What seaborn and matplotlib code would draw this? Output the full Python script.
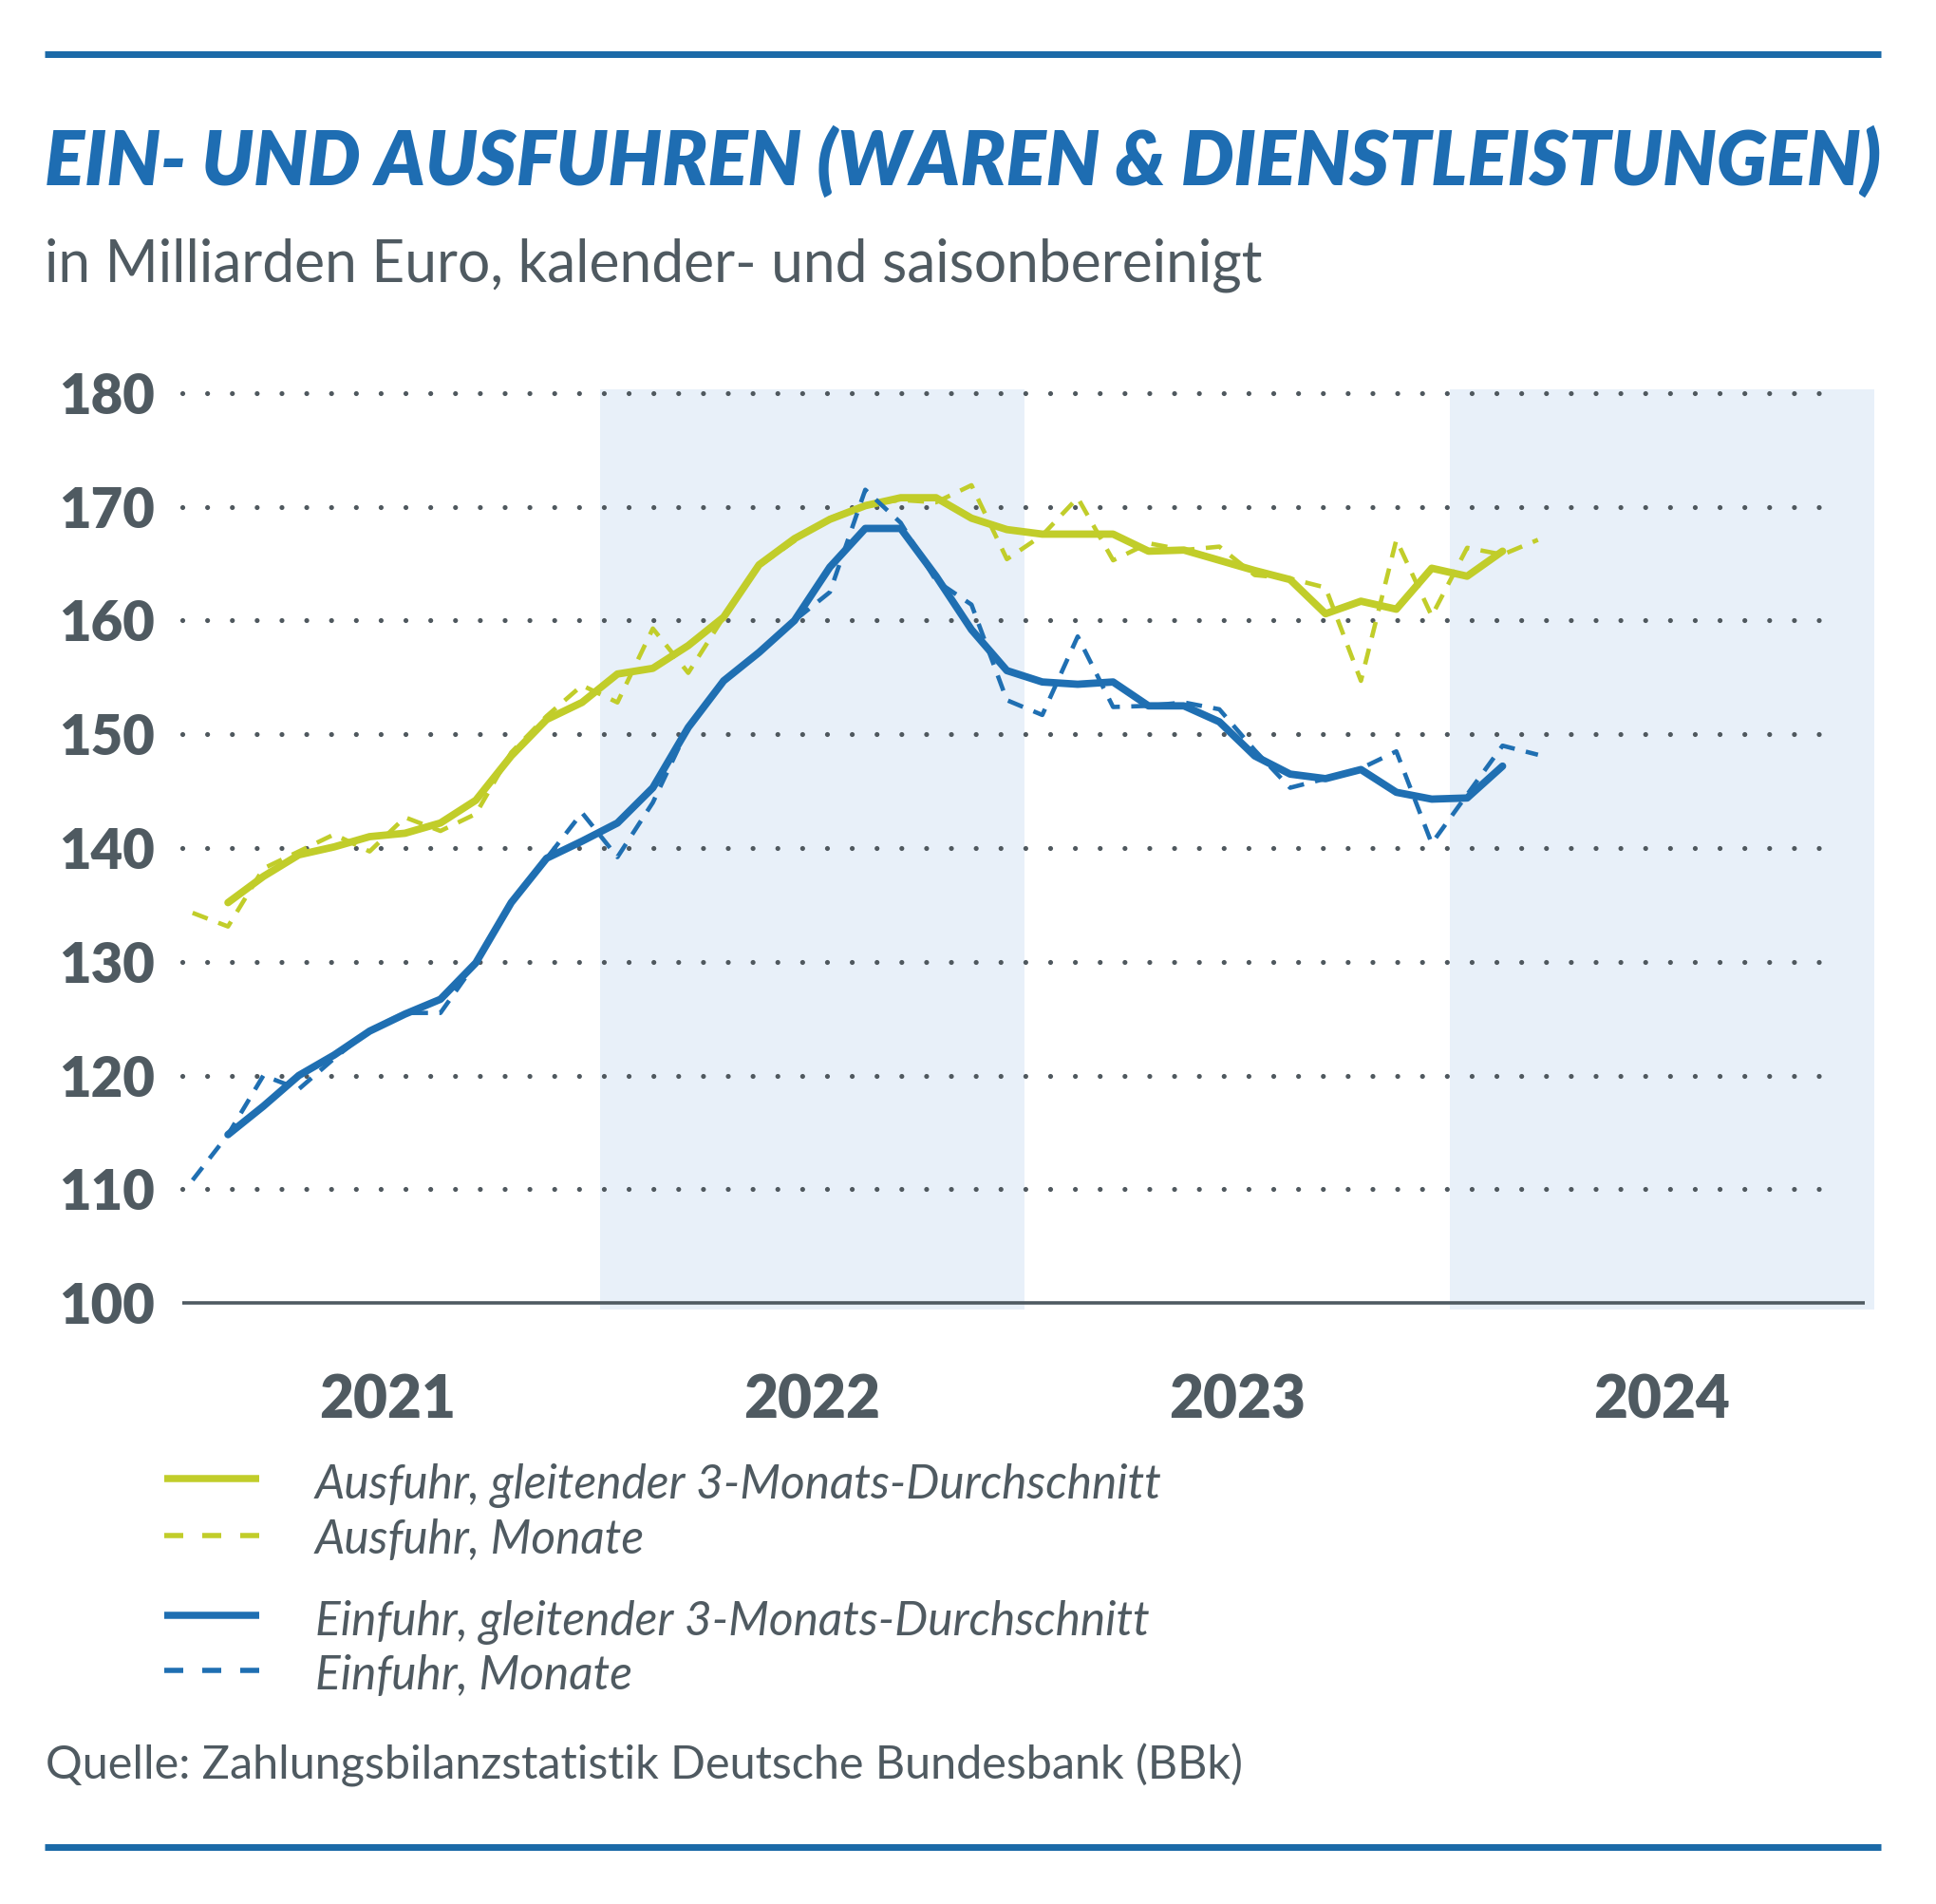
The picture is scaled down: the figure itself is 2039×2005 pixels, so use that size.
import numpy as np
import pandas as pd
import matplotlib
matplotlib.use("Agg")
import matplotlib.pyplot as plt
import seaborn as sns
from matplotlib.lines import Line2D

# ---------------- data ----------------
years = ["2021", "2022", "2023", "2024"]
y_ticks = [100, 110, 120, 130, 140, 150, 160, 170, 180]

# monthly values Jan 2021 .. Mar 2024 (39 months)
ausfuhr_monate = [134.3, 133.1, 138.2, 139.7, 141.2, 139.7, 142.7, 141.5, 143.0, 148.4,
                  151.6, 154.3, 152.8, 159.3, 155.4, 160.3, 164.8, 167.0, 169.0, 170.2,
                  170.6, 170.4, 171.9, 165.4, 167.5, 170.8, 165.3, 166.8, 166.2, 166.5,
                  164.0, 163.7, 162.9, 154.7, 167.1, 160.4, 166.4, 165.8, 167.1]
einfuhr_monate = [110.8, 114.8, 120.0, 118.8, 121.5, 124.0, 125.5, 125.5, 129.9, 135.2,
                  139.1, 143.1, 139.2, 144.0, 150.6, 154.7, 157.2, 160.0, 162.5, 171.5,
                  168.6, 163.5, 161.4, 153.0, 151.7, 158.6, 152.4, 152.5, 152.8, 152.2,
                  148.6, 145.3, 146.1, 147.0, 148.5, 140.4, 144.7, 149.0, 148.2]
# 3-month moving average Feb 2021 .. Feb 2024 (37 months)
ausfuhr_3m = [135.2, 137.5, 139.4, 140.1, 141.0, 141.3, 142.2, 144.2, 148.1, 151.3,
              152.8, 155.3, 155.8, 157.8, 160.3, 164.9, 167.2, 168.9, 170.1, 170.8,
              170.8, 169.0, 168.0, 167.6, 167.6, 167.6, 166.1, 166.2, 165.3, 164.4,
              163.6, 160.6, 161.7, 161.0, 164.6, 163.9, 166.1]
einfuhr_3m = [114.8, 117.3, 120.0, 121.8, 123.9, 125.4, 126.7, 129.9, 135.2, 139.1,
              140.6, 142.2, 145.3, 150.6, 154.7, 157.2, 160.0, 164.7, 168.1, 168.1,
              163.9, 159.2, 155.6, 154.6, 154.4, 154.6, 152.5, 152.5, 151.1, 148.1,
              146.5, 146.1, 146.9, 144.9, 144.3, 144.4, 147.2]

legend_labels = ["Ausfuhr, gleitender 3-Monats-Durchschnitt",
                 "Ausfuhr, Monate",
                 "Einfuhr, gleitender 3-Monats-Durchschnitt",
                 "Einfuhr, Monate"]
title = "EIN- UND AUSFUHREN (WAREN & DIENSTLEISTUNGEN)"
subtitle = "in Milliarden Euro, kalender- und saisonbereinigt"
source = "Quelle: Zahlungsbilanzstatistik Deutsche Bundesbank (BBk)"

# ---------------- build table ----------------
x_monthly = np.arange(len(ausfuhr_monate)) + 0.5          # month centres, 0 = Jan 2021
x_3m = np.arange(1, len(ausfuhr_3m) + 1) + 0.5
frames = []
for reihe, art, xs, vals in [("Ausfuhr", "Monate", x_monthly, ausfuhr_monate),
                             ("Einfuhr", "Monate", x_monthly, einfuhr_monate),
                             ("Einfuhr", "3M", x_3m, einfuhr_3m),
                             ("Ausfuhr", "3M", x_3m, ausfuhr_3m)]:
    frames.append(pd.DataFrame({"x": xs, "wert": vals, "reihe": reihe, "art": art}))
df = pd.concat(frames, ignore_index=True)

# ---------------- style ----------------
GREEN = "#c1cd2a"
BLUE = "#1f6fb2"
TITLE_BLUE = "#1e6db2"
GREY = "#4f5a61"
SHADE = "#e8f0f9"
DOT = "#4f585e"

sns.set_style("white")
plt.rcParams["font.family"] = ["Lato", "DejaVu Sans"]
plt.rcParams["lines.scale_dashes"] = False

W, H = 2040, 2005
fig = plt.figure(figsize=(W / 100, H / 100), dpi=100)
PX = 72 / 100  # points per pixel

ax_l, ax_r = 184.2, 1974.0
ax_top, ax_bot = 410.0, 1379.0
ax = fig.add_axes([ax_l / W, 1 - ax_bot / H, (ax_r - ax_l) / W, (ax_bot - ax_top) / H])
ax.set_xlim(0, 48)
ax.set_ylim(99.42, 180.33)
for s in ax.spines.values():
    s.set_visible(False)

# shaded years 2022 and 2024
ax.axvspan(12, 24, color=SHADE, lw=0, zorder=0)
ax.axvspan(36, 48, color=SHADE, lw=0, zorder=0)

# dotted grid
for yv in y_ticks[1:]:
    ax.plot([0.21, 47.1], [yv, yv], color=DOT, lw=5.2 * PX,
            linestyle=(0, (0.01, 26.1 * PX)), dash_capstyle="round", zorder=1)
ax.plot([0.22, 47.74], [100, 100], color=GREY, lw=3.6 * PX, solid_capstyle="butt", zorder=1)

sns.lineplot(data=df, x="x", y="wert", hue="reihe", style="art", size="art",
             palette={"Ausfuhr": GREEN, "Einfuhr": BLUE},
             dashes={"3M": "", "Monate": (17 * PX, 12 * PX)},
             sizes={"3M": 7.8 * PX, "Monate": 4.6 * PX},
             estimator=None, sort=False, legend=False, ax=ax, zorder=3)

ax.set_xlabel("")
ax.set_ylabel("")
ax.set_yticks(y_ticks)
ax.set_yticklabels([str(v) for v in y_ticks], fontsize=58 * PX, fontweight="heavy", color=GREY)
ax.set_xticks([6, 18, 30, 42])
ax.set_xticklabels(years, fontsize=62 * PX, fontweight="heavy", color=GREY)
ax.tick_params(axis="y", length=0, pad=21 * PX)
ax.tick_params(axis="x", length=0, pad=68 * PX)
ax.grid(False)

# ---------------- texts ----------------
def fy(y):
    return 1 - y / H

fig.add_artist(Line2D([47 / W, 1981 / W], [fy(57), fy(57)], color="#1b6aa8", lw=7 * PX,
                      solid_capstyle="butt"))
fig.add_artist(Line2D([47 / W, 1981 / W], [fy(1945), fy(1945)], color="#1b6aa8", lw=7 * PX,
                      solid_capstyle="butt"))

t_title = fig.text(47 / W, fy(195), title, fontsize=40, fontweight="heavy", fontstyle="italic",
                   color=TITLE_BLUE, va="baseline", ha="left")
t_sub = fig.text(47 / W, fy(297), subtitle, fontsize=30, color=GREY, va="baseline", ha="left")
t_src = fig.text(48 / W, fy(1873), source, fontsize=30, color=GREY, va="baseline", ha="left")

leg_line_y = [1557, 1617, 1701, 1759]
leg_base_y = [1578, 1636, 1722, 1779]
leg_colors = [GREEN, GREEN, BLUE, BLUE]
leg_dashed = [False, True, False, True]
leg_texts = []
for lab, ly, by, c, d in zip(legend_labels, leg_line_y, leg_base_y, leg_colors, leg_dashed):
    if d:
        fig.add_artist(Line2D([173 / W, 273 / W], [fy(ly), fy(ly)], color=c, lw=5.5 * PX,
                              linestyle=(0, (20 * PX, 20 * PX)), solid_capstyle="butt",
                              dash_capstyle="butt"))
    else:
        fig.add_artist(Line2D([173 / W, 273 / W], [fy(ly), fy(ly)], color=c, lw=7.5 * PX,
                              solid_capstyle="butt"))
    leg_texts.append(fig.text(332 / W, fy(by), lab, fontsize=28, fontstyle="italic",
                              color=GREY, va="baseline", ha="left"))

fig.canvas.draw()
r = fig.canvas.get_renderer()


def fit(t, target):
    w = t.get_window_extent(r).width
    t.set_fontsize(t.get_fontsize() * target / w)


fit(t_title, 1934)
fit(t_sub, 1283)
fit(t_src, 1262)
w0 = leg_texts[0].get_window_extent(r).width
scale = 891 / w0
for t in leg_texts:
    t.set_fontsize(t.get_fontsize() * scale)

fig.savefig("out.png", dpi=100, facecolor="white")
